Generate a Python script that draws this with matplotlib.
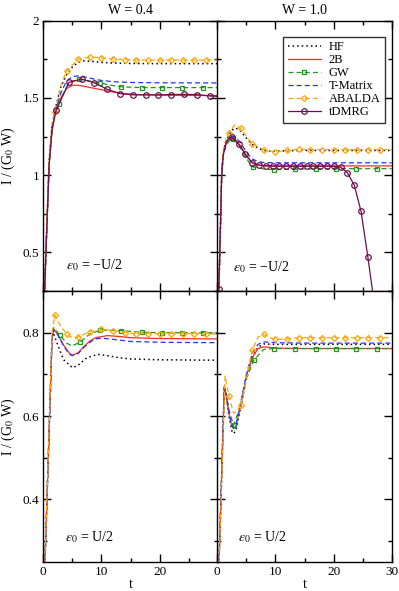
import numpy as np
import matplotlib
matplotlib.use("Agg")
import matplotlib.pyplot as plt
from matplotlib.ticker import MultipleLocator, FuncFormatter

plt.rcParams['font.family'] = ['Liberation Serif', 'DejaVu Serif']
plt.rcParams['mathtext.fontset'] = 'stix'

# ---------------- data ----------------
methods = ["HF", "2B", "GW", "T-Matrix", "ABALDA", "tDMRG"]
titles = ["W = 0.4", "W = 1.0"]
eps_labels = ["$\\varepsilon_0$ = \u2212U/2", "$\\varepsilon_0$ = U/2"]

# Panel A: W=0.4, eps0=-U/2
tA_hf = [0, 0.5, 1, 1.5, 2, 3, 4, 5, 6, 7, 8, 10, 12, 15, 20, 30]
A_hf = [0.0, 0.56, 1.09, 1.32, 1.42, 1.57, 1.65, 1.70, 1.73, 1.74, 1.738, 1.73, 1.726, 1.723, 1.722, 1.722]
tA_2b = [0, 0.5, 1, 1.5, 2, 3, 4, 5, 6, 8, 10, 12, 14, 16, 20, 25, 30]
A_2b = [0.0, 0.55, 1.06, 1.28, 1.39, 1.50, 1.56, 1.582, 1.582, 1.568, 1.553, 1.538, 1.528, 1.522, 1.518, 1.516, 1.515]
tA_gw = [0, 0.5, 1, 1.5, 2, 2.7, 4, 5, 6.2, 8, 9.8, 11.5, 13.3, 16.9, 20.4, 23.9, 27.4, 30]
A_gw = [0.0, 0.55, 1.07, 1.30, 1.40, 1.46, 1.57, 1.61, 1.62, 1.61, 1.597, 1.583, 1.572, 1.567, 1.567, 1.567, 1.567, 1.567]
tA_tm = [0, 0.5, 1, 1.5, 2, 3, 4, 5, 6, 7, 8, 10, 12, 15, 20, 30]
A_tm = [0.0, 0.55, 1.07, 1.30, 1.41, 1.53, 1.61, 1.638, 1.643, 1.638, 1.628, 1.613, 1.605, 1.600, 1.598, 1.597]
tA_ab = [0, 0.5, 1, 1.5, 2, 3, 4, 6, 8, 10, 12, 14, 16, 18, 20, 22, 24, 26, 28, 30]
A_ab = [0.0, 0.57, 1.10, 1.33, 1.41, 1.58, 1.675, 1.75, 1.765, 1.76, 1.753, 1.748, 1.746, 1.745, 1.745, 1.745, 1.745, 1.745, 1.745, 1.745]
tA_dm = [0, 0.5, 1, 1.5, 2.2, 4.4, 6.6, 8.8, 11.0, 13.2, 15.4, 17.6, 19.8, 22.0, 24.2, 26.4, 28.6, 30]
A_dm = [0.0, 0.55, 1.07, 1.30, 1.42, 1.60, 1.622, 1.597, 1.556, 1.528, 1.52, 1.52, 1.52, 1.522, 1.523, 1.522, 1.513, 1.51]

# Panel B: W=1.0, eps0=-U/2
tB_hf = [0, 0.3, 0.5, 0.75, 1, 1.5, 2, 2.5, 3, 3.5, 4, 5, 6, 7, 8, 9, 10, 12, 15, 20, 30]
B_hf = [0.0, 0.3, 0.6, 1.0, 1.14, 1.22, 1.26, 1.29, 1.305, 1.30, 1.285, 1.24, 1.20, 1.175, 1.16, 1.155, 1.155, 1.158, 1.16, 1.16, 1.16]
tB_2b = [0, 0.3, 0.5, 0.75, 1, 1.5, 2, 2.5, 3, 4, 5, 6, 7, 8, 10, 15, 20, 30]
B_2b = [0.0, 0.3, 0.6, 1.0, 1.13, 1.20, 1.23, 1.24, 1.235, 1.19, 1.125, 1.08, 1.066, 1.062, 1.06, 1.06, 1.06, 1.06]
tB_gw = [0, 0.3, 0.5, 0.75, 1, 1.5, 2, 2.7, 3.5, 4.5, 5.5, 6.2, 8, 9.8, 13.3, 16.9, 20.4, 23.9, 27.4, 30]
B_gw = [0.0, 0.3, 0.6, 0.99, 1.12, 1.19, 1.22, 1.232, 1.21, 1.14, 1.08, 1.052, 1.04, 1.035, 1.039, 1.042, 1.042, 1.042, 1.042, 1.042]
tB_tm = [0, 0.3, 0.5, 0.75, 1, 1.5, 2, 2.5, 3, 4, 5, 6, 7, 8, 10, 15, 20, 30]
B_tm = [0.0, 0.3, 0.6, 1.0, 1.13, 1.21, 1.24, 1.252, 1.25, 1.21, 1.15, 1.105, 1.088, 1.082, 1.08, 1.08, 1.08, 1.08]
tB_ab = [0, 0.3, 0.5, 0.75, 1, 1.5, 2, 3, 4, 5, 6, 8, 10, 12, 14, 16, 18, 20, 22, 24, 26, 28, 30]
B_ab = [0.0, 0.3, 0.62, 1.02, 1.16, 1.24, 1.275, 1.325, 1.305, 1.25, 1.204, 1.165, 1.15, 1.16, 1.167, 1.166, 1.166, 1.166, 1.166, 1.166, 1.166, 1.166, 1.166]
tB_dm = [0.25, 0.5, 0.75, 1, 1.5, 2.0, 2.5, 3.67, 4.84, 6.01, 7.18, 8.35, 9.52, 10.69, 11.86, 13.03, 14.2,
         15.37, 16.54, 17.71, 18.88, 20.05, 21.22, 22.39, 23.56, 24.73, 25.9, 26.7, 27.0]
B_dm = [0.26, 0.6, 1.0, 1.13, 1.21, 1.24, 1.245, 1.20, 1.135, 1.08, 1.065, 1.06, 1.058, 1.058, 1.058, 1.058, 1.058,
        1.058, 1.058, 1.058, 1.058, 1.057, 1.052, 1.015, 0.935, 0.765, 0.47, 0.25, 0.10]

# Panel C: W=0.4, eps0=U/2
tC_hf = [0, 1.5, 1.7, 2.5, 3.5, 5, 6, 7.5, 9.4, 11, 13, 15, 20, 30]
C_hf = [0.12, 0.79, 0.80, 0.77, 0.735, 0.716, 0.722, 0.74, 0.748, 0.745, 0.74, 0.737, 0.735, 0.734]
tC_2b = [0, 1.5, 1.8, 2.5, 3.5, 4.5, 5, 6, 7, 8, 9, 11, 13, 15, 20, 30]
C_2b = [0.12, 0.785, 0.808, 0.795, 0.77, 0.75, 0.746, 0.752, 0.767, 0.78, 0.788, 0.793, 0.791, 0.788, 0.786, 0.785]
tC_gw = [0, 1.5, 1.8, 2.8, 4, 4.9, 6.3, 8, 9.8, 13.3, 16.9, 20.4, 23.9, 27.4, 30]
C_gw = [0.12, 0.785, 0.812, 0.795, 0.775, 0.768, 0.777, 0.797, 0.806, 0.805, 0.801, 0.80, 0.80, 0.80, 0.80]
tC_tm = [0, 1.5, 1.8, 2.5, 3.5, 4.5, 5, 6, 7, 8, 9, 10, 12, 15, 20, 30]
C_tm = [0.12, 0.785, 0.808, 0.795, 0.768, 0.748, 0.745, 0.75, 0.765, 0.777, 0.785, 0.787, 0.784, 0.779, 0.777, 0.776]
tC_ab = [0, 1.5, 2, 3, 4, 5, 6, 8, 10, 12, 14, 16, 18, 20, 22, 24, 26, 28, 30]
C_ab = [0.12, 0.80, 0.842, 0.815, 0.797, 0.787, 0.79, 0.802, 0.808, 0.805, 0.80, 0.798, 0.798, 0.798, 0.798, 0.798, 0.798, 0.798, 0.798]

# Panel D: W=1.0, eps0=U/2
tD_hf = [0, 1.2, 1.5, 2, 2.5, 2.8, 3.2, 4, 5, 6, 7, 8, 10, 15, 30]
D_hf = [0.11, 0.668, 0.655, 0.60, 0.565, 0.558, 0.565, 0.62, 0.69, 0.74, 0.765, 0.773, 0.772, 0.772, 0.772]
tD_2b = [0, 1.2, 1.5, 2, 2.5, 2.8, 3.2, 4, 5, 6, 7, 8, 10, 15, 30]
D_2b = [0.11, 0.668, 0.652, 0.605, 0.575, 0.57, 0.576, 0.625, 0.695, 0.74, 0.762, 0.766, 0.763, 0.762, 0.762]
tD_gw = [0, 1.2, 1.5, 2, 2.8, 4, 5, 6.3, 8, 9.8, 13.3, 16.9, 20.4, 23.9, 27.4, 30]
D_gw = [0.11, 0.67, 0.658, 0.615, 0.578, 0.625, 0.69, 0.735, 0.76, 0.762, 0.762, 0.762, 0.762, 0.762, 0.762, 0.762]
tD_tm = [0, 1.2, 1.5, 2, 2.5, 2.8, 3.2, 4, 5, 6, 7, 8, 10, 15, 30]
D_tm = [0.11, 0.67, 0.655, 0.61, 0.578, 0.572, 0.578, 0.63, 0.70, 0.75, 0.772, 0.778, 0.776, 0.775, 0.775]
tD_ab = [0, 1.33, 2, 2.8, 3.3, 4, 5, 6, 7, 8, 9, 10, 12, 14, 16, 18, 20, 22, 24, 26, 28, 30]
D_ab = [0.11, 0.696, 0.648, 0.607, 0.61, 0.626, 0.69, 0.758, 0.79, 0.796, 0.788, 0.784, 0.785, 0.788, 0.788, 0.788, 0.788, 0.788, 0.788, 0.788, 0.788, 0.788]

# marker positions (times) for marked series
gw_marks = [2.7, 2.8, 6.2, 6.3, 9.8, 13.3, 16.9, 20.4, 23.9, 27.4]
ab_marks = [2, 4, 6, 8, 10, 12, 14, 16, 18, 20, 22, 24, 26, 28]
dmA_marks = [2.2, 4.4, 6.6, 8.8, 11.0, 13.2, 15.4, 17.6, 19.8, 22.0, 24.2, 26.4, 28.6]
dmB_marks = [0.25, 2.5, 3.67, 4.84, 6.01, 7.18, 8.35, 9.52, 10.69, 11.86, 13.03, 14.2, 15.37, 16.54,
             17.71, 18.88, 20.05, 21.22, 22.39, 23.56, 24.73, 25.9]

# ---------------- styles ----------------
styles = {
    "HF": dict(color="black", ls=(0, (1, 2)), lw=1.1),
    "2B": dict(color="#ff2a2a", ls="-", lw=0.9),
    "GW": dict(color="#1e9a1e", ls=(0, (4, 2.5)), lw=0.9, marker="s", ms=3.4, mfc="none", mew=0.9),
    "T-Matrix": dict(color="#2233ff", ls=(0, (4, 2.5)), lw=0.9),
    "ABALDA": dict(color="#ffa500", ls=(0, (4, 2.5)), lw=0.9, marker="D", ms=3.0, mfc="none", mew=0.9),
    "tDMRG": dict(color="#6e0f4e", ls="-", lw=0.9, marker="o", ms=4.0, mfc="none", mew=0.9),
}


def idx(t, marks):
    return [i for i, tt in enumerate(t) if any(abs(tt - m) < 1e-6 for m in marks)]


W, H = 399, 591
fig = plt.figure(figsize=(W / 100, H / 100), dpi=100)

xl, xr = 43.3, 217.3
wpx = 174.4
ytop, ymid, ybot = 20.7, 291.0, 562.0
rects = {
    "A": (xl / W, 1 - ymid / H, wpx / W, (ymid - ytop) / H),
    "B": (xr / W, 1 - ymid / H, wpx / W, (ymid - ytop) / H),
    "C": (xl / W, 1 - ybot / H, wpx / W, (ybot - ymid) / H),
    "D": (xr / W, 1 - ybot / H, wpx / W, (ybot - ymid) / H),
}

panels = {
    "A": [("HF", tA_hf, A_hf), ("2B", tA_2b, A_2b), ("GW", tA_gw, A_gw), ("T-Matrix", tA_tm, A_tm),
          ("ABALDA", tA_ab, A_ab), ("tDMRG", tA_dm, A_dm)],
    "B": [("HF", tB_hf, B_hf), ("2B", tB_2b, B_2b), ("GW", tB_gw, B_gw), ("T-Matrix", tB_tm, B_tm),
          ("ABALDA", tB_ab, B_ab), ("tDMRG", tB_dm, B_dm)],
    "C": [("HF", tC_hf, C_hf), ("2B", tC_2b, C_2b), ("GW", tC_gw, C_gw), ("T-Matrix", tC_tm, C_tm),
          ("ABALDA", tC_ab, C_ab)],
    "D": [("HF", tD_hf, D_hf), ("2B", tD_2b, D_2b), ("GW", tD_gw, D_gw), ("T-Matrix", tD_tm, D_tm),
          ("ABALDA", tD_ab, D_ab)],
}

fmt = FuncFormatter(lambda v, p: "%g" % round(v, 6))
axes = {}
for key in "ABCD":
    ax = fig.add_axes(rects[key])
    axes[key] = ax
    for name, t, y in panels[key]:
        st = dict(styles[name])
        if name == "GW":
            st["markevery"] = idx(t, gw_marks)
        elif name == "ABALDA":
            st["markevery"] = idx(t, ab_marks)
        elif name == "tDMRG":
            st["markevery"] = idx(t, dmA_marks if key == "A" else dmB_marks)
        ax.plot(t, y, label=name, **st)
    ax.set_xlim(0, 30)
    ax.xaxis.set_major_locator(MultipleLocator(10))
    ax.xaxis.set_minor_locator(MultipleLocator(5))
    if key in "AB":
        ax.set_ylim(0.25, 2.0)
        ax.yaxis.set_major_locator(MultipleLocator(0.5))
        ax.yaxis.set_minor_locator(MultipleLocator(0.25))
    else:
        ax.set_ylim(0.25, 0.9)
        ax.yaxis.set_major_locator(MultipleLocator(0.2))
        ax.yaxis.set_minor_locator(MultipleLocator(0.1))
    ax.yaxis.set_major_formatter(fmt)
    ax.xaxis.set_major_formatter(fmt)
    ax.tick_params(which="both", direction="in", top=True, right=True, labelsize=9.5, width=1.0)
    ax.tick_params(which="major", length=5.5, pad=3)
    ax.tick_params(which="minor", length=3)
    for s in ax.spines.values():
        s.set_linewidth(1.0)
    if key in "AB":
        ax.tick_params(labelbottom=False)
    if key in "BD":
        ax.tick_params(labelleft=False)
    if key in "AC":
        ax.set_ylabel("I / (G$_0$ W)", fontsize=10, labelpad=4)
    if key in "CD":
        ax.set_xlabel("t", fontsize=10, labelpad=0)

axes["C"].set_xticks([0, 10, 20])
axes["C"].xaxis.set_minor_locator(MultipleLocator(5))
axes["A"].set_title(titles[0], fontsize=10, pad=5)
axes["B"].set_title(titles[1], fontsize=10, pad=5)

axes["A"].text(0.13, 0.096, eps_labels[0], transform=axes["A"].transAxes, fontsize=10, va="center")
axes["B"].text(0.092, 0.09, eps_labels[0], transform=axes["B"].transAxes, fontsize=10, va="center")
axes["C"].text(0.125, 0.092, eps_labels[1], transform=axes["C"].transAxes, fontsize=10, va="center")
axes["D"].text(0.12, 0.092, eps_labels[1], transform=axes["D"].transAxes, fontsize=10, va="center")

handles, labels = axes["B"].get_legend_handles_labels()
leg = axes["B"].legend(handles, labels, loc="upper right", bbox_to_anchor=(0.962, 0.94),
                       borderaxespad=0.0,
                       fontsize=9, frameon=True, fancybox=False, edgecolor="black",
                       handlelength=2.7, handletextpad=0.6, borderpad=0.35, labelspacing=0.08)
leg.get_frame().set_linewidth(1.0)

fig.savefig("out.png", dpi=100)
